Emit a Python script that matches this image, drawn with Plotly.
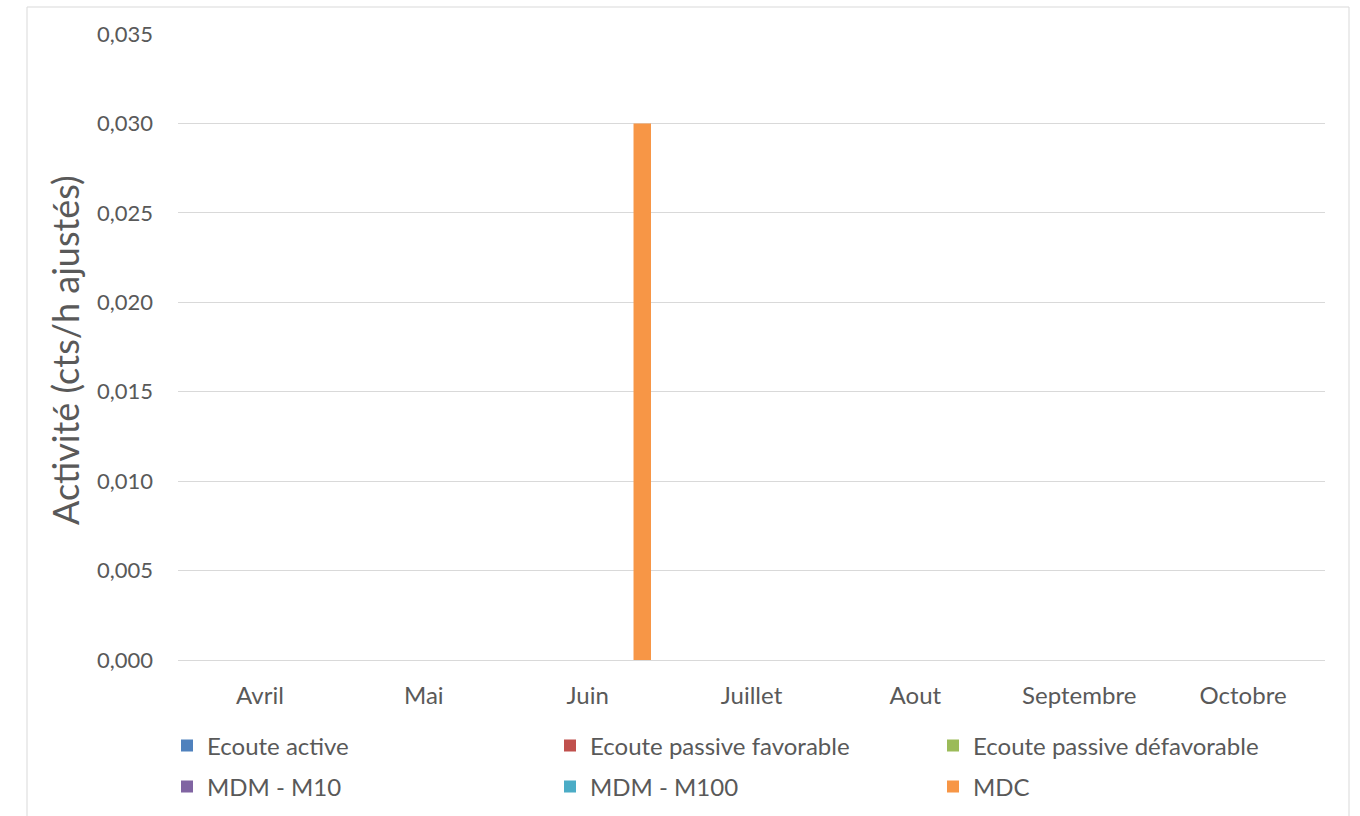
import plotly.graph_objects as go

# Monthly adjusted activity per detection method
months = ["Avril", "Mai", "Juin", "Juillet", "Aout", "Septembre", "Octobre"]
series_names = ["Ecoute active", "Ecoute passive favorable", "Ecoute passive défavorable",
                "MDM - M10", "MDM - M100", "MDC"]
ecoute_active = [0, 0, 0, 0, 0, 0, 0]
ecoute_passive_fav = [0, 0, 0, 0, 0, 0, 0]
ecoute_passive_defav = [0, 0, 0, 0, 0, 0, 0]
mdm_m10 = [0, 0, 0, 0, 0, 0, 0]
mdm_m100 = [0, 0, 0, 0, 0, 0, 0]
mdc = [0, 0, 0.030, 0, 0, 0, 0]
y_ticks = [0.000, 0.005, 0.010, 0.015, 0.020, 0.025, 0.030, 0.035]

values = [ecoute_active, ecoute_passive_fav, ecoute_passive_defav, mdm_m10, mdm_m100, mdc]
colors = ["#4F81BD", "#C0504D", "#9BBB59", "#8064A2", "#4BACC6", "#F79646"]

FONT = "Lato"
TXT = "#595959"
GRID = "#D9D9D9"

W, H = 1360, 816
L, R, T, B = 178, 35, 34, 156
pw, ph = W - L - R, H - T - B

fig = go.Figure()
for i, (name, vals, col) in enumerate(zip(series_names, values, colors)):
    fig.add_trace(go.Bar(
        x=months, y=vals, name=name,
        marker=dict(color=col, line=dict(width=0)),
        legend="legend" if i < 3 else "legend2",
    ))


def px_x(px):
    return (px - L) / pw


def px_y(py):
    return (H - B - py) / ph


legend_common = dict(
    orientation="h", xanchor="left", yanchor="middle",
    entrywidth=338, entrywidthmode="pixels",
    font=dict(family=FONT, size=24, color=TXT),
    bgcolor="rgba(0,0,0,0)", itemclick=False, traceorder="normal",
)

fig.update_layout(
    width=W, height=H,
    margin=dict(l=L, r=R, t=T, b=B, autoexpand=False),
    paper_bgcolor="white", plot_bgcolor="white",
    separators=", ",
    barmode="group", bargap=0.2, bargroupgap=0.2,
    font=dict(family=FONT, color=TXT),
    showlegend=True,
    legend=dict(x=px_x(167), y=px_y(746), **legend_common),
    legend2=dict(x=px_x(167), y=px_y(787), **legend_common),
    xaxis=dict(
        showgrid=False, showline=True, linecolor=GRID, linewidth=1,
        tickfont=dict(family=FONT, size=24, color=TXT),
        ticklabelstandoff=14, fixedrange=True,
    ),
    yaxis=dict(
        range=[0, 0.035], tickvals=y_ticks, tickformat=".3f",
        showgrid=True, gridcolor=GRID, gridwidth=1,
        zeroline=False, showline=False,
        tickfont=dict(family=FONT, size=22, color=TXT),
        ticklabelstandoff=24, fixedrange=True,
    ),
    annotations=[dict(
        text="Activité (cts/h ajustés)", textangle=-90,
        xref="paper", yref="paper", x=px_x(65), y=px_y(350),
        xanchor="center", yanchor="middle", showarrow=False,
        font=dict(family=FONT, size=36, color=TXT),
    )],
    shapes=[dict(
        type="rect", xref="paper", yref="paper",
        x0=px_x(27), x1=px_x(1349), y0=px_y(830), y1=px_y(7),
        line=dict(color=GRID, width=1), fillcolor="rgba(0,0,0,0)", layer="below",
    )],
)

fig.write_html("out.html")
